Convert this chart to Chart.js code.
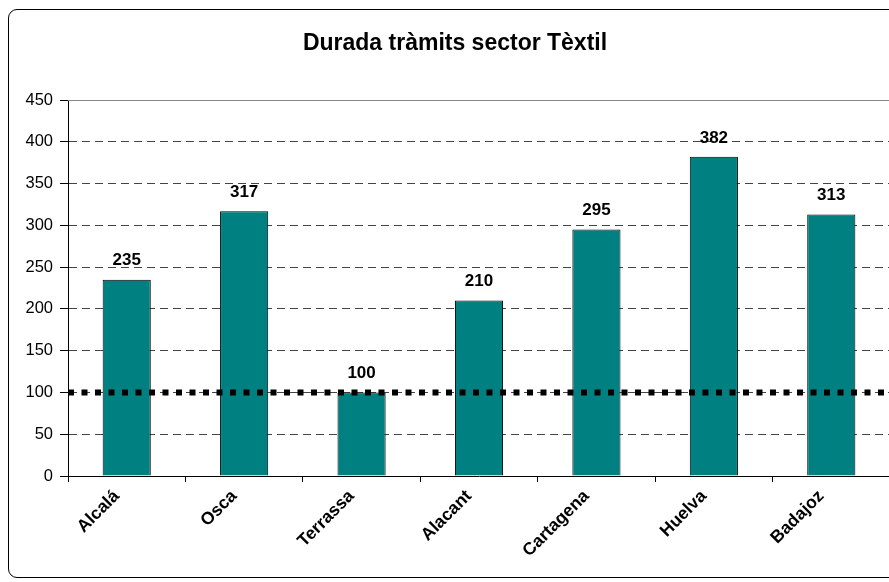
<!DOCTYPE html>
<html>
<head>
<meta charset="utf-8">
<script src="https://cdn.jsdelivr.net/npm/chart.js@4.4.1/dist/chart.umd.min.js"></script>
<style>
  html, body { margin: 0; padding: 0; background: #fff; overflow: hidden; width: 889px; height: 582px; }
  #frame { position: absolute; left: 8px; top: 9px; width: 920px; height: 567px; border: 1px solid #000; border-radius: 9px; }
  #wrap { position: absolute; left: 0; top: 0; width: 903px; height: 582px; }
</style>
</head>
<body>
<div id="frame"></div>
<div id="wrap"><canvas id="chart" width="903" height="582"></canvas></div>
<script>
const cities = ["Alcalá", "Osca", "Terrassa", "Alacant", "Cartagena", "Huelva", "Badajoz"];
const days = [235, 317, 100, 210, 295, 382, 313];
const referenceValue = [100];
const yRange = [0, 450, 50]; // min, max, step

const font = "'Liberation Sans', Arial, sans-serif";

// gray solid border on top of plot area
const plotTop = {
  id: "plotTop",
  beforeDatasetsDraw(chart) {
    const { ctx, chartArea } = chart;
    ctx.save();
    ctx.strokeStyle = "#888";
    ctx.lineWidth = 1;
    ctx.beginPath();
    ctx.moveTo(chartArea.left, chartArea.top + 0.5);
    ctx.lineTo(chartArea.right, chartArea.top + 0.5);
    ctx.stroke();
    ctx.restore();
  },
};

// thick dotted line at the reference value
const refLine = {
  id: "refLine",
  afterDatasetsDraw(chart) {
    const { ctx, chartArea } = chart;
    const y = chart.scales.y.getPixelForValue(referenceValue[0]);
    ctx.save();
    ctx.strokeStyle = "#000";
    ctx.lineWidth = 6;
    ctx.setLineDash([6, 7.5]);
    ctx.beginPath();
    ctx.moveTo(chartArea.left, y);
    ctx.lineTo(chartArea.right, y);
    ctx.stroke();
    ctx.restore();
  },
};

// numbers above the bars
const valueLabels = {
  id: "valueLabels",
  afterDatasetsDraw(chart) {
    const ctx = chart.ctx;
    const meta = chart.getDatasetMeta(0);
    ctx.save();
    ctx.font = "bold 17px " + font;
    ctx.fillStyle = "#000";
    ctx.textAlign = "center";
    ctx.textBaseline = "middle";
    meta.data.forEach((bar, i) => {
      ctx.fillText(days[i], bar.x, bar.y - 19);
    });
    ctx.restore();
  },
};

new Chart("chart", {
  type: "bar",
  data: {
    labels: cities,
    datasets: [
      {
        data: days,
        backgroundColor: "#008080",
        borderColor: "#000",
        borderWidth: 1,
        categoryPercentage: 1,
        barPercentage: 0.41,
      },
    ],
  },
  options: {
    responsive: false,
    animation: false,
    layout: { padding: { left: 20, right: 13, top: 0, bottom: 0 } },
    plugins: {
      legend: { display: false },
      tooltip: { enabled: false },
      title: {
        display: true,
        text: "Durada tràmits sector Tèxtil",
        color: "#000",
        font: { family: font, size: 23, weight: "bold" },
        padding: { top: 30, bottom: 42.4 },
      },
    },
    scales: {
      x: {
        grid: {
          drawOnChartArea: false,
          offset: true,
          tickLength: 6,
          tickColor: "#000",
          color: "#000",
        },
        border: { color: "#000", width: 1 },
        ticks: {
          autoSkip: false,
          minRotation: 45,
          maxRotation: 45,
          labelOffset: -10,
          padding: 4,
          color: "#000",
          font: { family: font, size: 17.5, weight: "bold" },
        },
        afterFit(scale) {
          scale.height = 106;
        },
      },
      y: {
        min: yRange[0],
        max: yRange[1],
        ticks: {
          stepSize: yRange[2],
          color: "#000",
          padding: 7,
          font: { family: font, size: 16.5 },
        },
        grid: {
          color: (c) => (c.tick && (c.tick.value === yRange[1] || c.tick.value === 0) ? "rgba(0,0,0,0)" : "#444"),
          tickColor: "#000",
          tickLength: 8,
          tickBorderDash: [],
        },
        border: { color: "#000", width: 1, dash: [8, 5] },
        afterFit(scale) {
          scale.width = 48;
        },
      },
    },
  },
  plugins: [plotTop, refLine, valueLabels],
});
</script>
</body>
</html>
